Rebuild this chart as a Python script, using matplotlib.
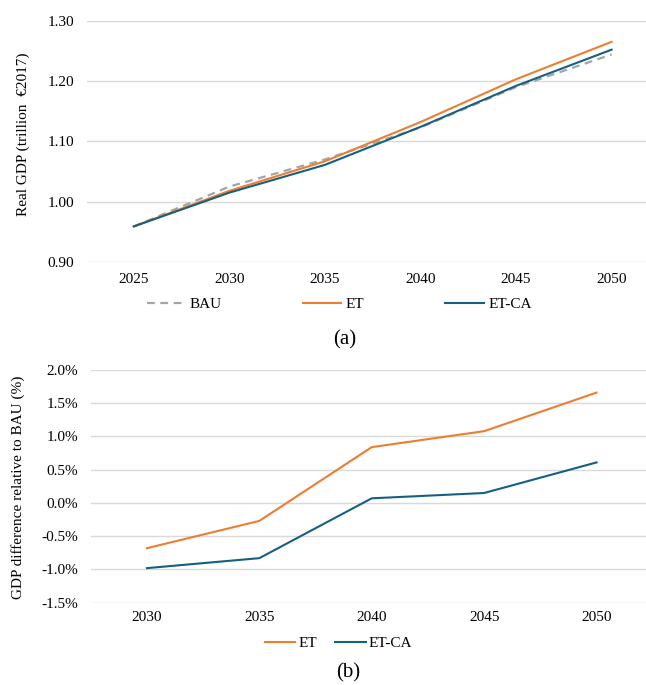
import matplotlib
matplotlib.use("Agg")
import matplotlib.pyplot as plt
from matplotlib.ticker import FuncFormatter

plt.rcParams["font.family"] = ["Liberation Serif", "DejaVu Serif"]

# Real GDP paths, trillion EUR (2017 prices)
years = [2025, 2030, 2035, 2040, 2045, 2050]
gdp_bau = [0.959, 1.025, 1.070, 1.123, 1.190, 1.244]
gdp_et = [0.959, 1.018, 1.067, 1.132, 1.203, 1.265]
gdp_etca = [0.959, 1.015, 1.061, 1.124, 1.192, 1.252]

# Difference to BAU, percent
diff_years = [2030, 2035, 2040, 2045, 2050]
diff_et = [-0.68, -0.27, 0.84, 1.08, 1.66]
diff_etca = [-0.98, -0.83, 0.07, 0.15, 0.61]

c_bau = "#A5A5A5"
c_et = "#ED7D31"
c_etca = "#156082"
c_grid = "#D9D9D9"
fs = 11

fig = plt.figure(figsize=(6.46, 6.85), dpi=100)
ax1 = fig.add_axes([87 / 646, 1 - 262 / 685, 559 / 646, 241.3 / 685])
ax2 = fig.add_axes([90.7 / 646, 1 - 602.7 / 685, 555.3 / 646, 232.7 / 685])


def excel_style(ax):
    for s in ax.spines.values():
        s.set_visible(False)
    ax.grid(axis="y", color=c_grid, lw=1.0)
    ax.set_axisbelow(True)
    ax.tick_params(length=0, labelsize=fs)


# (a) GDP levels
h_bau, = ax1.plot(years, gdp_bau, color=c_bau, lw=1.6, ls=(0, (3.5, 2.5)), label="BAU")
h_et, = ax1.plot(years, gdp_et, color=c_et, lw=1.5, label="ET")
h_etca, = ax1.plot(years, gdp_etca, color=c_etca, lw=1.5, label="ET-CA")
ax1.set_xlim(2022.55, 2051.8)
ax1.set_ylim(0.9, 1.3)
ax1.set_xticks(years)
ax1.set_yticks([0.9, 1.0, 1.1, 1.2, 1.3])
ax1.yaxis.set_major_formatter(FuncFormatter(lambda v, p: f"{v:.2f}"))
excel_style(ax1)
ax1.tick_params(axis="x", pad=8)
ax1.tick_params(axis="y", pad=9)
fig.text(23 / 646, 1 - 134 / 685, "Real GDP (trillion  \u20ac2017)", rotation=90,
         ha="center", va="center", fontsize=fs)

fig.legend(handles=[h_bau, h_et, h_etca], loc="center", ncol=3,
           bbox_to_anchor=(339.5 / 646, 1 - 304 / 685), frameon=False,
           fontsize=fs, handlelength=2.5, handletextpad=0.3, columnspacing=5.3)
fig.text(345 / 646, 1 - 340 / 685, "(a)", ha="center", va="center", fontsize=15)

# (b) relative difference
g_et, = ax2.plot(diff_years, diff_et, color=c_et, lw=1.5, label="ET")
g_etca, = ax2.plot(diff_years, diff_etca, color=c_etca, lw=1.5, label="ET-CA")
ax2.set_xlim(2027.5, 2052.2)
ax2.set_ylim(-1.5, 2.0)
ax2.set_xticks(diff_years)
ax2.set_yticks([-1.5, -1.0, -0.5, 0.0, 0.5, 1.0, 1.5, 2.0])
ax2.yaxis.set_major_formatter(FuncFormatter(lambda v, p: f"{v:.1f}%"))
excel_style(ax2)
ax2.tick_params(axis="x", pad=6)
ax2.tick_params(axis="y", pad=9)
fig.text(18 / 646, 1 - 487.5 / 685, "GDP difference relative to BAU (%)", rotation=90,
         ha="center", va="center", fontsize=fs)

fig.legend(handles=[g_et, g_etca], loc="center", ncol=2,
           bbox_to_anchor=(338.5 / 646, 1 - 643 / 685), frameon=False,
           fontsize=fs, handlelength=2.0, handletextpad=0.2, columnspacing=1.2)
fig.text(348 / 646, 1 - 673 / 685, "(b)", ha="center", va="center", fontsize=15)

fig.savefig("out.png", dpi=100)
